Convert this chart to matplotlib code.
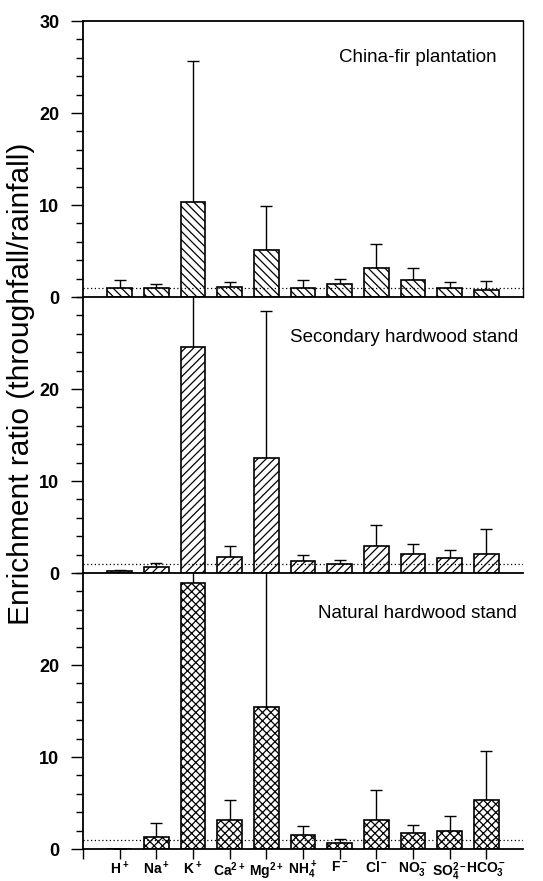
import matplotlib
matplotlib.use('Agg')
from matplotlib import pyplot as plt
from matplotlib.ticker import MultipleLocator
import numpy as np

plt.rcParams['font.family'] = ['Liberation Sans', 'DejaVu Sans']
plt.rcParams['mathtext.default'] = 'bf'
plt.rcParams['mathtext.fontset'] = 'custom'
plt.rcParams['mathtext.bf'] = 'Liberation Sans:bold'
plt.rcParams['hatch.linewidth'] = 0.9

# ions on the x axis
ions = ['H$^+$', 'Na$^+$', 'K$^+$', 'Ca$^{2+}$', 'Mg$^{2+}$', 'NH$_4^+$',
        'F$^-$', 'Cl$^-$', 'NO$_3^-$', 'SO$_4^{2-}$', 'HCO$_3^-$']

# China-fir plantation: mean and upper error
fir_mean = [1.0, 0.95, 10.3, 1.1, 5.1, 1.0, 1.4, 3.1, 1.8, 1.0, 0.8]
fir_err = [0.8, 0.45, 15.3, 0.5, 4.8, 0.9, 0.6, 2.7, 1.4, 0.6, 0.9]

# secondary hardwood stand
sec_mean = [0.2, 0.7, 24.6, 1.7, 12.45, 1.3, 1.0, 2.9, 2.1, 1.6, 2.1]
sec_err = [0.1, 0.4, 8.0, 1.2, 16.05, 0.7, 0.4, 2.3, 1.1, 0.9, 2.65]

# natural hardwood stand
nat_mean = [0.05, 1.35, 28.9, 3.1, 15.45, 1.55, 0.65, 3.1, 1.75, 2.0, 5.3]
nat_err = [0.0, 1.45, 3.0, 2.25, 16.0, 0.95, 0.45, 3.3, 0.85, 1.6, 5.4]

panels = [('China-fir plantation', fir_mean, fir_err, '\\\\\\\\'),
          ('Secondary hardwood stand', sec_mean, sec_err, '////'),
          ('Natural hardwood stand', nat_mean, nat_err, 'xxxx')]
name_pos = [(0.941, 0.866), (0.989, 0.855), (0.986, 0.855)]

fig = plt.figure(figsize=(5.43, 8.81), dpi=100)
W, H = 543.0, 881.0
left = 83 / W
width = (523 - 83) / W
tops = [21, 297, 573]
ph = 276

x = np.arange(1, len(ions) + 1)
for i, (name, mean, err, hatch) in enumerate(panels):
    ax = fig.add_axes([left, 1 - (tops[i] + ph) / H, width, ph / H])
    ax.patch.set_alpha(0)
    ax.bar(x, mean, width=0.68, color='white', edgecolor='black',
           linewidth=1.2, hatch=hatch, zorder=2)
    ax.errorbar(x, mean, yerr=[np.zeros(len(err)), err], fmt='none',
                ecolor='black', elinewidth=1, capsize=4.5, capthick=1, zorder=1)
    ax.axhline(1, color='black', linestyle=(0, (1, 2)), linewidth=0.9, zorder=3)
    ax.set_xlim(0, 12)
    ax.set_ylim(0, 30)
    ax.yaxis.set_major_locator(MultipleLocator(10))
    ax.yaxis.set_minor_locator(MultipleLocator(2))
    ax.tick_params(axis='y', which='major', length=9, width=1, pad=8,
                   labelsize=13)
    ax.tick_params(axis='y', which='minor', length=5, width=1)
    for lab in ax.get_yticklabels():
        lab.set_fontweight('bold')
    ax.spines['left'].set_linewidth(1.3)
    ax.spines['bottom'].set_linewidth(1.3)
    ax.spines['top'].set_visible(i == 0)
    ax.spines['right'].set_visible(i == 0)
    ax.spines['top'].set_linewidth(1.3)
    ax.spines['right'].set_linewidth(1.0)
    if i == 0:
        ax.set_yticks([0, 10, 20, 30])
    else:
        ax.set_yticks([0, 10, 20])
        ax.set_yticklabels(['0', '10', '20'], fontweight='bold')
    ax.text(name_pos[i][0], name_pos[i][1], name, transform=ax.transAxes,
            ha='right', va='center', fontsize=13.5)
    if i < 2:
        ax.set_xticks([])
    else:
        ax.set_xticks(np.concatenate([[0], x]))
        ax.set_xticklabels([''] + ions, fontsize=10, fontweight='bold')
        ax.tick_params(axis='x', length=7, width=1, pad=1)

fig.text(0.039, 0.564, 'Enrichment ratio (throughfall/rainfall)', rotation=90,
         ha='center', va='center', fontsize=21.5)

fig.savefig('out.png', dpi=100)
